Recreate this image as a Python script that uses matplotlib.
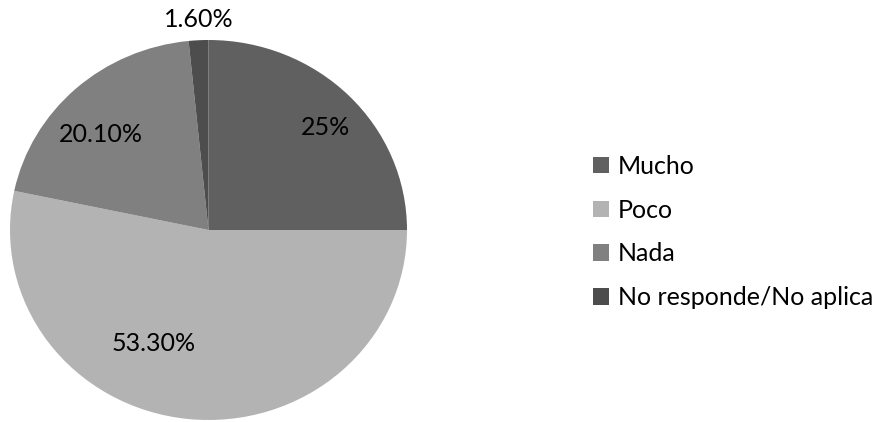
import numpy as np
import matplotlib.pyplot as plt

plt.rcParams['font.family'] = ['Lato', 'DejaVu Sans']

categories = ['Mucho', 'Poco', 'Nada', 'No responde/No aplica']
values = [25.0, 53.3, 20.1, 1.6]
pct_labels = ['25%', '53.30%', '20.10%', '1.60%']
colors = ['#606060', '#b3b3b3', '#808080', '#4d4d4d']

# where each percentage label sits (radius, angle in degrees), Excel "best fit" look
label_pos = [(0.80, 42.5), (0.66, -115.0), (0.74, 137.0), (1.11, 92.6)]

fig = plt.figure(figsize=(8.88, 4.22), dpi=100)
ax = fig.add_axes([10 / 888, 2 / 422, 397 / 888, 380 / 422])

wedges, _ = ax.pie(values, colors=colors, startangle=90, counterclock=False,
                   wedgeprops=dict(linewidth=0))
ax.set_aspect('auto')
ax.set_xlim(-1, 1)
ax.set_ylim(-1, 1)
ax.axis('off')

for txt, (r, a) in zip(pct_labels, label_pos):
    ax.text(r * np.cos(np.radians(a)), r * np.sin(np.radians(a)), txt,
            ha='center', va='center', fontsize=18, color='black', clip_on=False)

fig.legend(wedges, categories, loc='center left',
           bbox_to_anchor=(583 / 888, 1 - 232 / 422), frameon=False,
           fontsize=18, handlelength=0.65, handleheight=0.65,
           handletextpad=0.35, labelspacing=0.83, borderaxespad=0)

fig.savefig('out.png', dpi=100)
